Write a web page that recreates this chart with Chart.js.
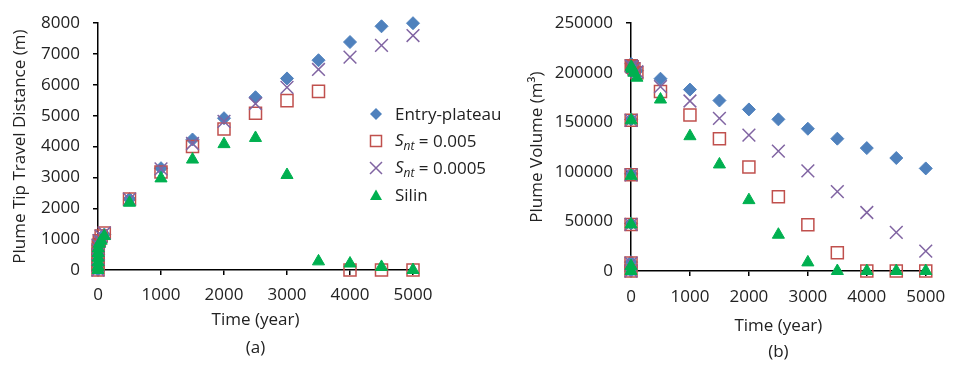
<!DOCTYPE html>
<html>
<head>
<meta charset="utf-8">
<script src="https://cdn.jsdelivr.net/npm/chart.js@4.4.0/dist/chart.umd.min.js"></script>
<style>
    body { margin: 0; background: #fff; width: 956px; height: 365px; position: relative; overflow: hidden; font-family: "Open Sans", sans-serif; }
    canvas { position: absolute; top: 0; }
    #distChart { left: 0; }
    #volChart { left: 490px; }
    #legend { position: absolute; left: 368px; top: 100px; z-index: 5; font-size: 17px; color: #222; }
    .row { height: 27px; display: flex; align-items: center; white-space: nowrap; }
    .row svg { width: 16px; height: 16px; margin-right: 11px; flex: none; }
    .row sub { font-size: 12px; vertical-align: -4px; }
</style>
</head>
<body>
<canvas id="distChart" width="520" height="365"></canvas>
<canvas id="volChart" width="466" height="365"></canvas>

<div id="legend">
    <div class="row"><svg viewBox="0 0 16 16"><polygon points="8,2 14,8 8,14 2,8" fill="#4F81BD"/></svg>Entry-plateau</div>
    <div class="row"><svg viewBox="0 0 16 16"><rect x="2.5" y="2.5" width="11" height="11" fill="none" stroke="#C0504D" stroke-width="1.5"/></svg><i>S<sub>nt</sub></i>&nbsp;= 0.005</div>
    <div class="row"><svg viewBox="0 0 16 16"><path d="M2 2 L14 14 M14 2 L2 14" stroke="#8064A2" stroke-width="1.5"/></svg><i>S<sub>nt</sub></i>&nbsp;= 0.0005</div>
    <div class="row"><svg viewBox="0 0 16 16"><polygon points="8,2.5 14,13 2,13" fill="#00B050"/></svg>Silin</div>
</div>

<script>
// === DATA ===
const timeYears = [0, 0.2, 1, 2, 3, 4, 20, 50, 100, 500, 1000, 1500, 2000, 2500, 3000, 3500, 4000, 4500, 5000];
const seriesNames = ["Entry-plateau", "Snt = 0.005", "Snt = 0.0005", "Silin"];

// (a) plume tip travel distance (m)
const distEntry   = [0, 150, 350, 500, 650, 800, 950, 1050, 1150, 2300, 3300, 4230, 4920, 5600, 6210, 6800, 7390, 7900, 8000];
const distSnt005  = [0, 150, 350, 500, 650, 800, 950, 1100, 1200, 2300, 3180, 4000, 4570, 5080, 5490, 5790, 0, 0, 0];
const distSnt0005 = [0, 150, 350, 500, 650, 800, 950, 1100, 1200, 2300, 3280, 4100, 4820, 5390, 5920, 6500, 6900, 7280, 7600];
const distSilin   = [0, 100, 250, 400, 550, 700, 850, 950, 1100, 2180, 2970, 3580, 4080, 4280, 3080, 280, 210, 100, 0];

// (b) plume volume (m3)
const volEntry   = [0, 9000, 48000, 98000, 153000, 209000, 207000, 205000, 202000, 194000, 183000, 172000, 163000, 153000, 143500, 133500, 124000, 114000, 103500];
const volSnt005  = [0, 8000, 47000, 97000, 152000, 207000, 206000, 204000, 200000, 181000, 157500, 133500, 105000, 75000, 46600, 18300, 0, 0, 0];
const volSnt0005 = [0, 8000, 47000, 97000, 152000, 207000, 206000, 204000, 201000, 186000, 171500, 154000, 137000, 121000, 101000, 80000, 59000, 39000, 20000];
const volSilin   = [0, 5000, 47000, 96000, 152000, 206000, 204000, 200000, 195000, 173000, 136000, 107500, 71500, 36600, 8700, 0, 0, 0, 0];

// tick labels
const timeTicks = [0, 1000, 2000, 3000, 4000, 5000];
const distTicks = [0, 1000, 2000, 3000, 4000, 5000, 6000, 7000, 8000];
const volTicks  = [0, 50000, 100000, 150000, 200000, 250000];

// === STYLE ===
const textColor = "#222";
const fontFamily = "'Open Sans', sans-serif";
const markers = [
    { pointStyle: "rectRot",  pointRadius: 6.5, backgroundColor: "#4F81BD", borderColor: "#4F81BD", borderWidth: 1, order: 3 },
    { pointStyle: "rect",     pointRadius: 8.5, backgroundColor: "rgba(0,0,0,0)", borderColor: "#C0504D", borderWidth: 1.5, order: 2 },
    { pointStyle: "crossRot", pointRadius: 9,   backgroundColor: "#8064A2", borderColor: "#8064A2", borderWidth: 1.5, order: 1 },
    { pointStyle: "triangle", pointRadius: 7,   backgroundColor: "#00B050", borderColor: "#00B050", borderWidth: 1, order: 0 }
];

function toPoints(values) {
    return timeYears.map((t, i) => ({ x: t, y: values[i] }));
}

function buildDatasets(seriesList) {
    return seriesList.map((values, i) => Object.assign({
        label: seriesNames[i],
        data: toPoints(values),
        showLine: false,
        clip: false
    }, markers[i]));
}

function axisOptions(tickValues, max, title, fit, titlePad, tickPad, titleLine) {
    return {
        type: "linear",
        min: 0,
        max: max,
        afterBuildTicks: (scale) => { scale.ticks = tickValues.map(v => ({ value: v })); },
        afterFit: fit,
        border: { color: "#000", width: 1.5 },
        grid: { display: true, drawOnChartArea: false, drawTicks: true, tickLength: 5, color: "#000", lineWidth: 1.5 },
        ticks: { color: textColor, font: { family: fontFamily, size: 17 }, padding: tickPad, maxRotation: 0, callback: (v) => String(v) },
        title: { display: true, text: title, color: textColor, font: { family: fontFamily, size: 17, lineHeight: titleLine || 1.2 }, padding: titlePad }
    };
}

// === CHART (a) ===
new Chart(document.getElementById("distChart"), {
    type: "scatter",
    data: { datasets: buildDatasets([distEntry, distSnt005, distSnt0005, distSilin]) },
    options: {
        responsive: false,
        animation: false,
        events: [],
        devicePixelRatio: 1,
        layout: { padding: { left: 0, right: 107, top: 17, bottom: 0 } },
        plugins: { legend: { display: false }, tooltip: { enabled: false } },
        scales: {
            x: axisOptions(timeTicks, 5000, ["Time (year)", "(a)"], (s) => { s.height = 95; }, { top: 0, bottom: 3 }, 9.8, "28px"),
            y: axisOptions(distTicks, 8000, "Plume Tip Travel Distance (m)", (s) => { s.width = 98; }, { top: 10.3, bottom: 0 }, 13)
        }
    }
});

// === CHART (b) ===
new Chart(document.getElementById("volChart"), {
    type: "scatter",
    data: { datasets: buildDatasets([volEntry, volSnt005, volSnt0005, volSilin]) },
    options: {
        responsive: false,
        animation: false,
        events: [],
        devicePixelRatio: 1,
        layout: { padding: { left: 0, right: 22, top: 21, bottom: 0 } },
        plugins: { legend: { display: false }, tooltip: { enabled: false } },
        scales: {
            x: axisOptions(timeTicks, 5000, ["Time (year)", "(b)"], (s) => { s.height = 94; }, { top: 0, bottom: 0 }, 10.8, "26px"),
            y: axisOptions(volTicks, 250000, "Plume Volume (m³)", (s) => { s.width = 141; }, { top: 36.5, bottom: 0 }, 13)
        }
    }
});
</script>
</body>
</html>
